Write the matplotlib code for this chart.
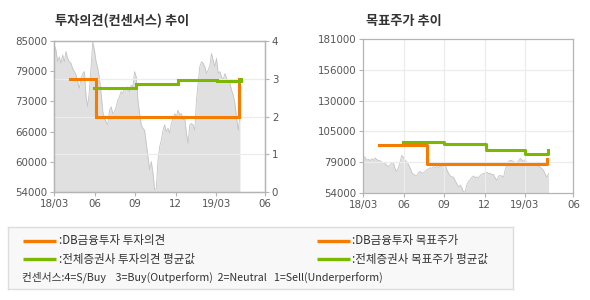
import numpy as np
import matplotlib
matplotlib.use('Agg')
from matplotlib import pyplot as plt

plt.rcParams['font.family'] = ['Noto Sans CJK KR', 'DejaVu Sans']

# x axis: months counted from 2018/03
x_end = 15.6
xticks = [0, 3, 6, 9, 12, x_end]
xticklabels = ['18/03', '06', '09', '12', '19/03', '06']

# share price
price_end = 13.75
price = [84100, 83100, 80700, 81700, 80400, 82100, 80700, 82800, 81400, 80700,
         80400, 79300, 78700, 78000, 76600, 75300, 77300, 78300, 78700, 73600,
         71500, 74900, 79700, 84800, 83100, 80700, 79300, 77300, 74200, 70500,
         69100, 68400, 67800, 70800, 71500, 70100, 70500, 71500, 72900, 73600,
         74600, 74200, 75300, 74900, 75600, 74600, 75900, 75600, 78700, 77600,
         72900, 70100, 67800, 67100, 66700, 64000, 61300, 58600, 60300, 57900,
         54500, 54800, 60600, 63300, 64700, 66700, 67800, 66400, 67100, 66100,
         68100, 69100, 70100, 69500, 70800, 69800, 70100, 68800, 69100, 66100,
         64000, 67800, 68100, 67800, 66700, 72900, 76300, 79700, 80700, 80400,
         79700, 78300, 79000, 80000, 82400, 81000, 79700, 81400, 78300, 78700,
         77600, 77000, 78300, 77300, 77000, 76300, 74900, 73900, 72200, 69100,
         66700, 69800]

# investment opinion (right scale 0-4)
db_op_x = [1.16, 3.08, 13.7]
db_op_y = [3, 2, 3]
avg_op_x = [2.96, 6.05, 9.14, 12.07, 13.8]
avg_op_y = [2.76, 2.85, 2.97, 2.93, 3.0]

# target price
db_tp_x = [1.15, 4.7, 13.6]
db_tp_y = [93500, 77800, 81600]
avg_tp_x = [2.95, 6.0, 9.07, 12.0, 13.7]
avg_tp_y = [96000, 94300, 89300, 86200, 89200]

left_ylim = (54000, 85000)
left_ylabels = ['54000', '60000', '66000', '73000', '79000', '85000']
op_ticks = [0, 1, 2, 3, 4]
right_ylim = (54000, 181000)
right_ylabels = ['54000', '79000', '105000', '130000', '156000', '181000']

ORANGE = '#f57c00'
GREEN = '#7cb800'
SPINE = '#b4b4b4'
GRID = '#ececec'
TXT = '#555555'
TITLE = '#333333'


def style_axes(ax):
    for s in ax.spines.values():
        s.set_color(SPINE)
        s.set_linewidth(0.9)
    ax.tick_params(length=3, width=0.8, color=SPINE, labelcolor=TXT, pad=2)
    for lab in ax.get_xticklabels() + ax.get_yticklabels():
        lab.set_family('DejaVu Sans')
        lab.set_fontsize(7.4)


fig = plt.figure(figsize=(5.9, 3.0), dpi=100)
px = np.linspace(0, price_end, len(price))

# ---- left: opinion chart
ax1 = fig.add_axes([0.092, 0.359, 0.357, 0.505])
ax1.fill_between(px, left_ylim[0], price, color='#e0e0e0', lw=0, zorder=1)
ax1.plot(px, price, color='#c4c4c4', lw=0.6, zorder=1)
ax1.set_xlim(0, x_end)
ax1.set_ylim(*left_ylim)
ax1.set_yticks(np.linspace(left_ylim[0], left_ylim[1], len(left_ylabels)))
ax1.set_yticklabels(left_ylabels)
ax1.set_xticks(xticks)
ax1.set_xticklabels(xticklabels)
style_axes(ax1)

ax1b = ax1.twinx()
ax1b.set_ylim(0, 4)
ax1b.set_yticks(op_ticks)
ax1b.set_yticklabels([str(t) for t in op_ticks])
ax1b.set_xlim(0, x_end)
ax1b.grid(True, color=GRID, lw=0.9, zorder=0)
for gl, t in zip(ax1b.xaxis.get_gridlines(), xticks):
    gl.set_visible(0 < t < x_end)
for gl, t in zip(ax1b.yaxis.get_gridlines(), op_ticks):
    gl.set_visible(0 < t < 4)
ax1b.plot(db_op_x, db_op_y, drawstyle='steps-post', color=ORANGE, lw=2.2, solid_joinstyle='miter')
ax1b.plot(avg_op_x, avg_op_y, drawstyle='steps-post', color=GREEN, lw=2.2, solid_joinstyle='miter')
style_axes(ax1b)
fig.text(0.093, 0.93, '투자의견(컨센서스) 추이', fontsize=9.5, fontweight='bold',
         color=TITLE, va='center')

# ---- right: target price chart
ax2 = fig.add_axes([0.616, 0.358, 0.356, 0.511])
ax2.fill_between(px, right_ylim[0], price, color='#e0e0e0', lw=0, zorder=1)
ax2.plot(px, price, color='#c4c4c4', lw=0.6, zorder=1)
ax2.set_axisbelow('line')
ax2.set_xlim(0, x_end)
ax2.set_ylim(*right_ylim)
rticks = np.linspace(right_ylim[0], right_ylim[1], len(right_ylabels))
ax2.set_yticks(rticks)
ax2.set_yticklabels(right_ylabels)
ax2.set_xticks(xticks)
ax2.set_xticklabels(xticklabels)
ax2.grid(True, color=GRID, lw=0.9)
for gl, t in zip(ax2.xaxis.get_gridlines(), xticks):
    gl.set_visible(0 < t < x_end)
for i, gl in enumerate(ax2.yaxis.get_gridlines()):
    gl.set_visible(0 < i < len(rticks) - 1)
ax2.plot(db_tp_x, db_tp_y, drawstyle='steps-post', color=ORANGE, lw=2.2, zorder=3)
ax2.plot(avg_tp_x, avg_tp_y, drawstyle='steps-post', color=GREEN, lw=2.2, zorder=3)
style_axes(ax2)
fig.text(0.620, 0.93, '목표주가 추이', fontsize=9.5, fontweight='bold',
         color=TITLE, va='center')

# ---- legend box
lg = fig.add_axes([8 / 590, 11 / 300, 505 / 590, 62 / 300])
lg.set_facecolor('#f8f8f8')
lg.set_xticks([])
lg.set_yticks([])
lg.set_xlim(0, 1)
lg.set_ylim(0, 1)
for s in lg.spines.values():
    s.set_color('#dddddd')
    s.set_linewidth(1)

entries = [
    (0.030, 0.779, ORANGE, ':DB금융투자 투자의견'),
    (0.030, 0.484, GREEN, ':전체증권사 투자의견 평균값'),
    (0.611, 0.779, ORANGE, ':DB금융투자 목표주가'),
    (0.611, 0.484, GREEN, ':전체증권사 목표주가 평균값'),
]
for x0, y0, c, label in entries:
    lg.plot([x0, x0 + 0.066], [y0, y0], color=c, lw=2.4, solid_capstyle='butt')
    lg.text(x0 + 0.071, y0, label, fontsize=8.3, color=TITLE, va='center')
lg.text(0.028, 0.189,
        '컨센서스:4=S/Buy    3=Buy(Outperform)  2=Neutral   1=Sell(Underperform)',
        fontsize=7.7, color=TITLE, va='center')

fig.savefig('out.png', dpi=100)
